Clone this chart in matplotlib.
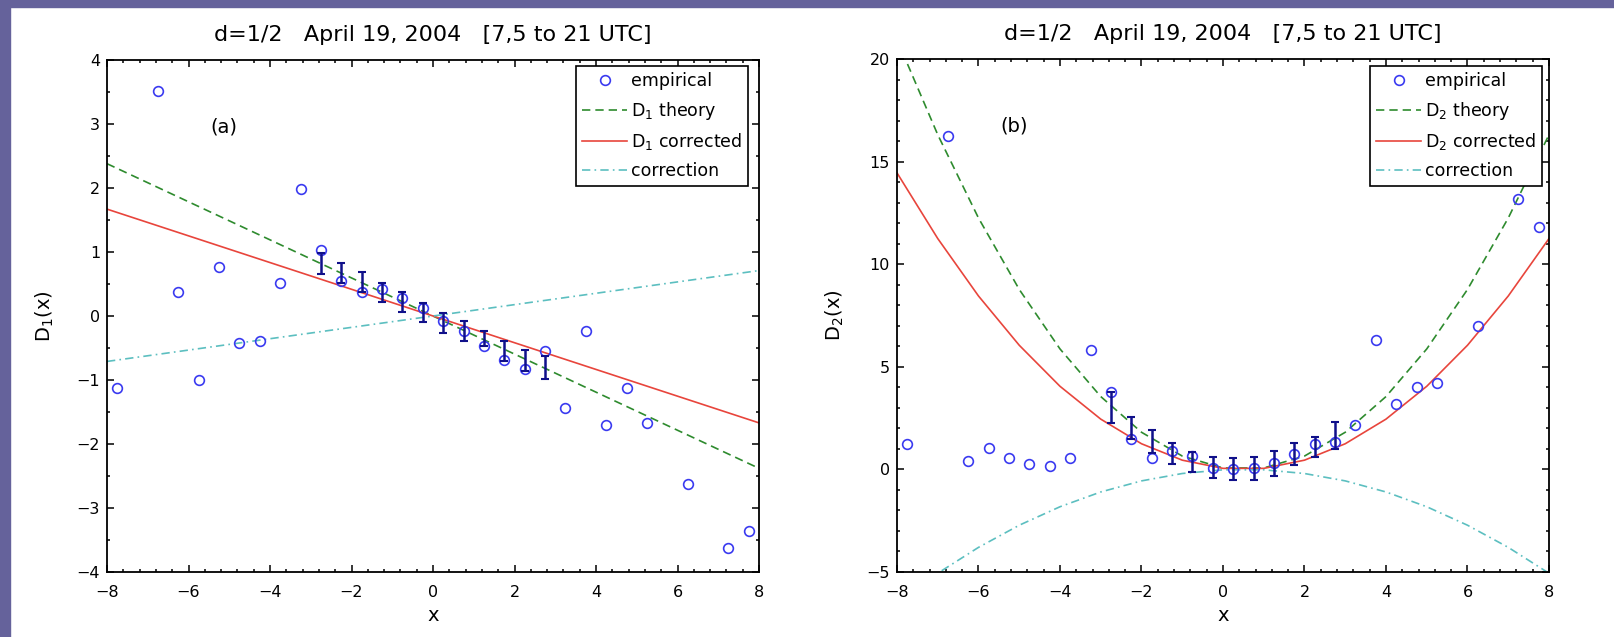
import numpy as np
import matplotlib
matplotlib.use('Agg')
import matplotlib.pyplot as plt
from matplotlib.patches import Rectangle
from matplotlib.ticker import MultipleLocator

plt.rcParams['font.family'] = ['DejaVu Sans']
plt.rcParams['mathtext.fontset'] = 'dejavusans'

title = 'd=1/2   April 19, 2004   [7,5 to 21 UTC]'

# --- panel (a): drift coefficient D1 ---
x_a = [-7.75, -6.75, -6.25, -5.75, -5.25, -4.75, -4.25, -3.75, -3.25,
       -2.75, -2.25, -1.75, -1.25, -0.75, -0.25, 0.25, 0.75, 1.25, 1.75,
       2.25, 2.75, 3.25, 3.75, 4.25, 4.75, 5.25, 6.25, 7.25, 7.75]
d1_emp = [-1.13, 3.52, 0.38, -1.0, 0.76, -0.42, -0.39, 0.51, 1.98,
          1.03, 0.55, 0.37, 0.42, 0.28, 0.13, -0.08, -0.23, -0.47, -0.68,
          -0.83, -0.55, -1.43, -0.24, -1.71, -1.13, -1.67, -2.63, -3.62, -3.36]

# error bars on the central bins (lower / upper end)
xe_a = [-2.75, -2.25, -1.75, -1.25, -0.75, -0.25, 0.25, 0.75, 1.25, 1.75, 2.25, 2.75]
d1_lo = [0.65, 0.52, 0.37, 0.22, 0.06, -0.10, -0.26, -0.39, -0.47, -0.70, -0.86, -0.99]
d1_hi = [0.98, 0.83, 0.68, 0.52, 0.37, 0.21, 0.05, -0.08, -0.23, -0.39, -0.53, -0.62]

xl_a = [-8, 8]
d1_theory = [2.38, -2.38]
d1_corr = [1.67, -1.67]
d1_fix = [-0.71, 0.71]

# --- panel (b): diffusion coefficient D2 ---
x_b = [-7.75, -6.75, -6.25, -5.75, -5.25, -4.75, -4.25, -3.75, -3.25,
       -2.75, -2.25, -1.75, -1.25, -0.75, -0.25, 0.25, 0.75, 1.25, 1.75,
       2.25, 2.75, 3.25, 3.75, 4.25, 4.75, 5.25, 6.25, 7.25, 7.75]
d2_emp = [1.25, 16.26, 0.40, 1.05, 0.55, 0.24, 0.16, 0.57, 5.8,
          3.77, 1.46, 0.57, 0.90, 0.65, 0.08, 0.0, 0.08, 0.30, 0.75,
          1.25, 1.35, 2.15, 6.30, 3.20, 4.00, 4.20, 7.00, 13.2, 11.8]

xe_b = [-2.75, -2.25, -1.75, -1.25, -0.75, -0.25, 0.25, 0.75, 1.25, 1.75, 2.25, 2.75]
d2_lo = [2.27, 1.46, 0.78, 0.24, -0.13, -0.40, -0.52, -0.50, -0.30, 0.20, 0.60, 1.00]
d2_hi = [3.77, 2.57, 1.92, 1.30, 0.84, 0.62, 0.54, 0.60, 0.90, 1.30, 1.60, 2.30]

xl_b = [-8, -7, -6, -5, -4, -3, -2, -1, 0, 1, 2, 3, 4, 5, 6, 7, 8]
d2_theory = [20.95, 16.31, 12.25, 8.77, 5.87, 3.55, 1.81, 0.65, 0.07,
             0.07, 0.65, 1.81, 3.55, 5.87, 8.77, 12.25, 16.31]
d2_corr = [14.45, 11.25, 8.45, 6.05, 4.05, 2.45, 1.25, 0.45, 0.05,
           0.05, 0.45, 1.25, 2.45, 4.05, 6.05, 8.45, 11.25]
d2_fix = [-6.50, -5.06, -3.80, -2.72, -1.82, -1.10, -0.56, -0.20, -0.02,
          -0.02, -0.20, -0.56, -1.10, -1.82, -2.72, -3.80, -5.06]

c_emp = '#3a3af0'
c_bar = '#10108a'
c_theory = '#2e8b2e'
c_corr = '#e8453c'
c_fix = '#5cbfc0'

fig = plt.figure(figsize=(16.14, 6.37), dpi=100)
fig.patch.set_facecolor('white')
frame_col = '#65629b'
fig.patches.append(Rectangle((0, 0), 10 / 1614, 1, transform=fig.transFigure,
                             color=frame_col, zorder=-1))
fig.patches.append(Rectangle((0, 1 - 7 / 637), 1, 7 / 637, transform=fig.transFigure,
                             color=frame_col, zorder=-1))

ax_a = fig.add_axes([107 / 1614, 1 - 572 / 637, 652 / 1614, 512 / 637])
ax_b = fig.add_axes([897 / 1614, 1 - 572 / 637, 652 / 1614, 513 / 637])


def draw(ax, x, emp, xe, lo, hi, xl, th, co, fx, idx, tag):
    lo = np.array(lo)
    hi = np.array(hi)
    ax.plot(x, emp, 'o', ms=7, mfc='none', mec=c_emp, mew=1.2, label='empirical', zorder=4)
    ax.plot(xl, th, color=c_theory, lw=1.2, dashes=(5, 3), label='D$_%d$ theory' % idx)
    ax.plot(xl, co, color=c_corr, lw=1.2, label='D$_%d$ corrected' % idx)
    ax.plot(xl, fx, color=c_fix, lw=1.2, dashes=(5, 2.5, 1, 2.5), label='correction')
    ax.errorbar(xe, (lo + hi) / 2, yerr=(hi - lo) / 2, fmt='none', ecolor=c_bar,
                elinewidth=1.8, capsize=3, capthick=1.5, zorder=4)
    ax.set_xlim(-8, 8)
    ax.xaxis.set_major_locator(MultipleLocator(2))
    ax.xaxis.set_minor_locator(MultipleLocator(0.4))
    ax.tick_params(which='both', direction='in', top=True, right=True, labelsize=11.5,
                   width=1.1)
    ax.tick_params(axis='x', pad=9.7)
    ax.tick_params(axis='y', pad=5)
    ax.tick_params(which='major', length=5)
    ax.tick_params(which='minor', length=2.5)
    for s in ax.spines.values():
        s.set_linewidth(1.3)
    ax.set_title(title, fontsize=16, pad=14)
    ax.set_xlabel('x', fontsize=14, labelpad=4.3)
    ax.set_ylabel('D$_%d$(x)' % idx, fontsize=14, labelpad=15)
    ax.text(0.179, 0.87, tag, transform=ax.transAxes, fontsize=14,
            ha='center', va='center')


def legend(ax, anchor):
    leg = ax.legend(loc='upper right', bbox_to_anchor=anchor, borderaxespad=0,
                    fontsize=12.5, handlelength=2.6, labelspacing=0.55, fancybox=False,
                    edgecolor='black', framealpha=1, borderpad=0.35, handletextpad=0.2)
    leg.get_frame().set_linewidth(1.2)
    leg.set_zorder(10)


draw(ax_a, x_a, d1_emp, xe_a, d1_lo, d1_hi, xl_a, d1_theory, d1_corr, d1_fix, 1, '(a)')
ax_a.set_ylim(-4, 4)
ax_a.yaxis.set_major_locator(MultipleLocator(1))
ax_a.yaxis.set_minor_locator(MultipleLocator(0.5))
legend(ax_a, (0.983, 0.988))

draw(ax_b, x_b, d2_emp, xe_b, d2_lo, d2_hi, xl_b, d2_theory, d2_corr, d2_fix, 2, '(b)')
ax_b.set_ylim(-5, 20)
ax_b.yaxis.set_major_locator(MultipleLocator(5))
ax_b.yaxis.set_minor_locator(MultipleLocator(1))
legend(ax_b, (0.989, 0.986))

fig.savefig('out.png', dpi=100)
